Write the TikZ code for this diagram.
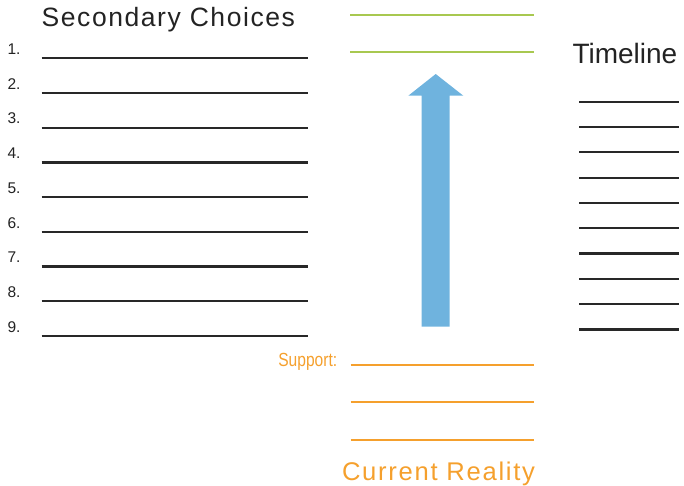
\documentclass[tikz,border=0pt]{standalone}
\usepackage{fontspec}
\setmainfont{Liberation Sans}
\newfontfamily\titlefont[LetterSpace=5.9]{Liberation Sans}
\newfontfamily\timefont{Liberation Sans}
\newfontfamily\crfont[LetterSpace=6.7]{Liberation Sans}
\newfontfamily\numfont{Liberation Sans}
\definecolor{inkc}{RGB}{35,35,35}
\definecolor{linec}{RGB}{40,40,40}
\definecolor{greenc}{RGB}{168,200,80}
\definecolor{orangec}{RGB}{245,160,45}
\definecolor{arrowc}{RGB}{111,179,222}
\tikzset{
  blank/.style={draw=linec, line width=2.2pt},
  greenblank/.style={draw=greenc, line width=2pt},
  orangeblank/.style={draw=orangec, line width=2.2pt},
  lbl/.style={anchor=base west, inner sep=0pt, outer sep=0pt, text=inkc},
}
\begin{document}
\begin{tikzpicture}[x=1pt,y=-1pt]
\useasboundingbox (0,0) rectangle (684,485);
% titles
\node[lbl, font=\titlefont\fontsize{26.5}{30}\selectfont] (sec) at (41.7,26.7) {Secondary Choices};
\node[lbl, font=\timefont\fontsize{28}{32}\selectfont] (tl) at (572.5,63.3) {Timeline};
\node[lbl, text=orangec, font=\crfont\fontsize{25.6}{30}\selectfont] (cr) at (342,480) {Current Reality};
\node[lbl, text=orangec, font=\fontsize{19}{21}\selectfont] (sup) at (278.3,366) {\scalebox{0.82}[1]{Support:}};
% numbered blanks
\foreach \i in {1,...,9}{
  \pgfmathsetmacro{\yy}{58.3+(\i-1)*34.7}
  \node[lbl, font=\numfont\fontsize{15.5}{17}\selectfont] (n\i) at (7.5,\yy-3.8) {\i.};
  \draw[blank] (41.7,\yy) -- (308.3,\yy);
}
% timeline blanks
\foreach \k in {0,...,9}{
  \pgfmathsetmacro{\yy}{101.7+\k*25.3}
  \draw[blank] (579,\yy) -- (679,\yy);
}
% green blanks
\draw[greenblank] (350,15) -- (534,15);
\draw[greenblank] (350,52.3) -- (534,52.3);
% orange blanks
\foreach \yy in {365,402.3,440}{
  \draw[orangeblank] (350.7,\yy) -- (534,\yy);
}
% big arrow
\fill[arrowc] (421.7,326.7) -- (449.7,326.7) -- (449.7,95.7) -- (463.3,95.7) -- (435.7,74) -- (408.3,95.7) -- (421.7,95.7) -- cycle;
\end{tikzpicture}
\end{document}
